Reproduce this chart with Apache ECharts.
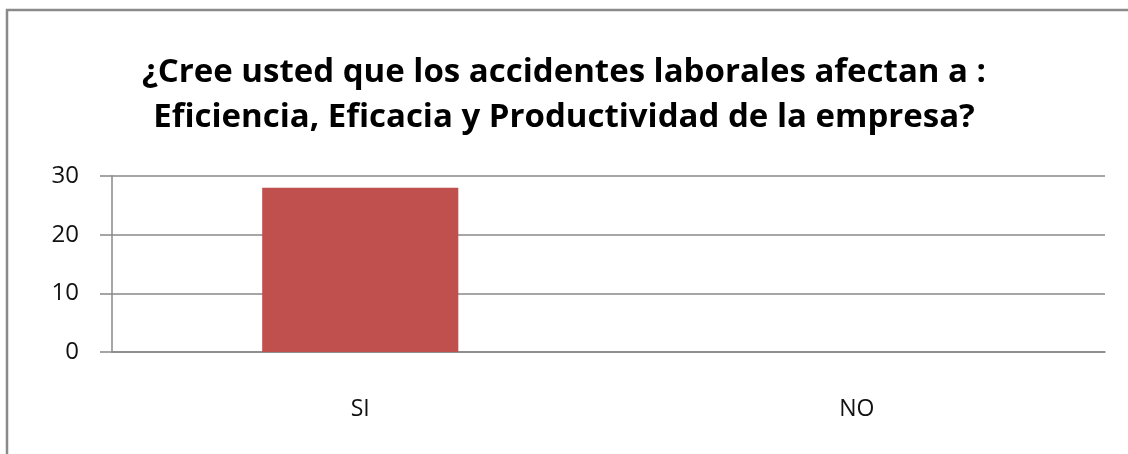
<!DOCTYPE html>
<html>
<head>
<meta charset="utf-8">
<script src="https://cdn.jsdelivr.net/npm/echarts@6/dist/echarts.min.js"></script>
<style>
  html, body { margin: 0; padding: 0; background: #fff; }
</style>
</head>
<body>
<div id="chart" style="width: 1128px; height: 454px"></div>
<script>
  var categories = ['SI', 'NO'];
  var values = [28, 0];
  var titleLines = [
    '¿Cree usted que los accidentes laborales afectan a :',
    'Eficiencia, Eficacia y Productividad de la empresa?'
  ];

  var chart = echarts.init(document.getElementById('chart'));
  var option = {
    backgroundColor: '#FFFFFF',
    animation: false,
    title: {
      text: titleLines.join('\n'),
      left: 'center',
      top: 45,
      textStyle: {
        fontFamily: 'Open Sans',
        fontWeight: 'bold',
        fontSize: 33,
        lineHeight: 45,
        color: '#000'
      }
    },
    // frame of the chart area, only left and top edges are visible
    graphic: [{
      type: 'polyline',
      shape: { points: [[7, 460], [7, 10], [1140, 10]] },
      style: { fill: null, stroke: '#8a8a8a', lineWidth: 2.5 },
      silent: true
    }],
    grid: {
      left: 112,
      right: 23,
      top: 176,
      bottom: 102
    },
    xAxis: {
      type: 'category',
      data: categories,
      axisLine: { lineStyle: { color: '#888', width: 1.5 } },
      axisTick: { show: false },
      axisLabel: {
        margin: 46,
        fontFamily: 'Open Sans',
        fontSize: 23,
        color: '#111'
      }
    },
    yAxis: {
      type: 'value',
      min: 0,
      max: 30,
      interval: 10,
      axisLine: { show: true, lineStyle: { color: '#888', width: 1.5 } },
      axisTick: { show: true, length: 12, lineStyle: { color: '#888', width: 1.5 } },
      splitLine: { lineStyle: { color: '#888', width: 1.5 } },
      axisLabel: {
        margin: 33,
        fontFamily: 'Open Sans',
        fontSize: 24,
        color: '#111'
      }
    },
    series: [{
      type: 'bar',
      data: values,
      barWidth: '39.5%',
      itemStyle: { color: '#C0504D' }
    }]
  };
  chart.setOption(option);
</script>
</body>
</html>
